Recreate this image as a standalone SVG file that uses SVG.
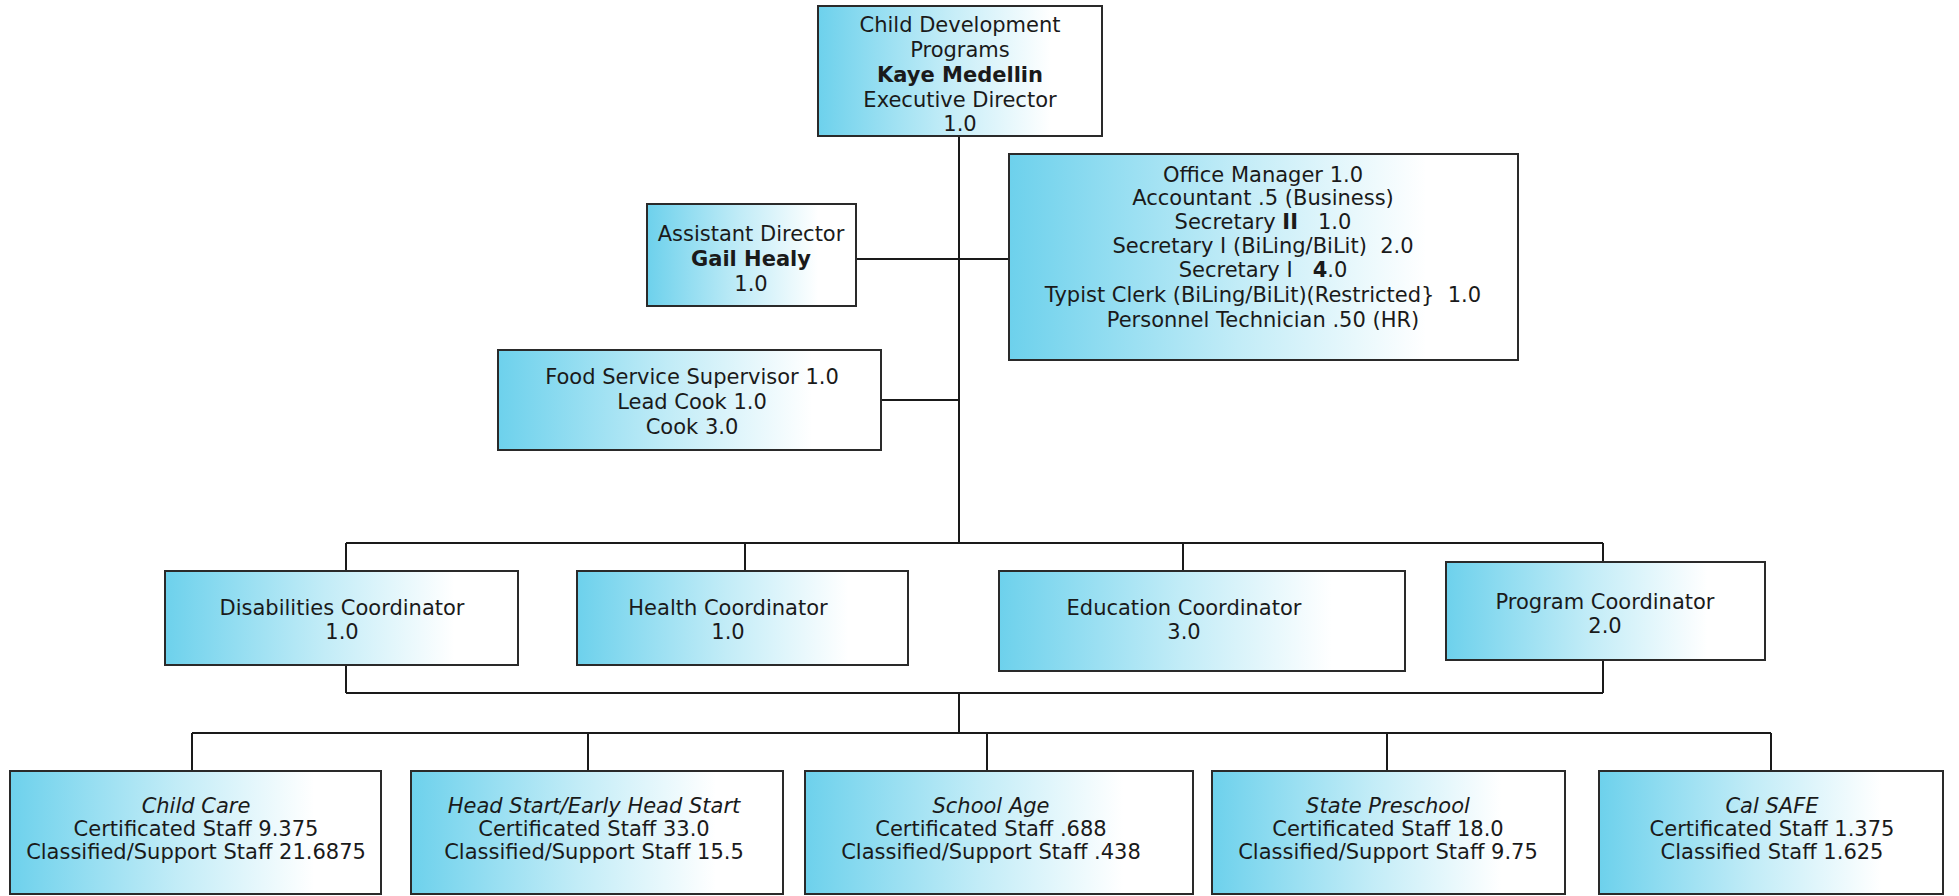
<svg xmlns="http://www.w3.org/2000/svg" width="1959" height="896" viewBox="0 0 1959 896">
<defs>
<linearGradient id="g" x1="0" y1="0" x2="1" y2="0">
<stop offset="0" stop-color="#6dd1ec"/>
<stop offset="0.45" stop-color="#c2ecf7"/>
<stop offset="0.82" stop-color="#ffffff"/>
</linearGradient>
<style>
.box{fill:url(#g);stroke:#2a2a2a;stroke-width:2}
.t{font-family:"DejaVu Sans","Liberation Sans",sans-serif;font-size:21px;fill:#1a1a1a;text-anchor:middle}
.b{font-weight:bold}
.i{font-style:italic}
.c{fill:none;stroke:#1a1a1a;stroke-width:2}
</style>
</defs>
<rect width="1959" height="896" fill="#ffffff"/>
<g id="connectors">
<path class="c" d="M959 136V543"/>
<path class="c" d="M856 259H1009"/>
<path class="c" d="M881 400H959"/>
<path class="c" d="M346 543H1603M346 543V571M745 543V571M1183 543V571M1603 543V562"/>
<path class="c" d="M346 665V693M1603 660V693M346 693H1603M959 693V733"/>
<path class="c" d="M192 733H1771M192 733V771M588 733V771M987 733V771M1387 733V771M1771 733V771"/>
</g>
<g id="exec">
<rect class="box" x="818" y="6" width="284" height="130"/>
<text class="t" x="960" y="32">Child Development</text>
<text class="t" x="960" y="57">Programs</text>
<text class="t b" x="960" y="82">Kaye Medellin</text>
<text class="t" x="960" y="107">Executive Director</text>
<text class="t" x="960" y="131">1.0</text>
</g>
<g id="office">
<rect class="box" x="1009" y="154" width="509" height="206"/>
<text class="t" x="1263" y="182">Office Manager 1.0</text>
<text class="t" x="1263" y="205">Accountant .5 (Business)</text>
<text class="t" x="1263" y="229" xml:space="preserve">Secretary <tspan class="b">II</tspan>   1.0</text>
<text class="t" x="1263" y="253" xml:space="preserve">Secretary I (BiLing/BiLit)  2.0</text>
<text class="t" x="1263" y="277" xml:space="preserve">Secretary I   <tspan class="b">4</tspan>.0</text>
<text class="t" x="1263" y="302" xml:space="preserve">Typist Clerk (BiLing/BiLit)(Restricted}  1.0</text>
<text class="t" x="1263" y="327">Personnel Technician .50 (HR)</text>
</g>
<g id="asst">
<rect class="box" x="647" y="204" width="209" height="102"/>
<text class="t" x="751" y="241">Assistant Director</text>
<text class="t b" x="751" y="266">Gail Healy</text>
<text class="t" x="751" y="291">1.0</text>
</g>
<g id="food">
<rect class="box" x="498" y="350" width="383" height="100"/>
<text class="t" x="692" y="384">Food Service Supervisor 1.0</text>
<text class="t" x="692" y="409">Lead Cook 1.0</text>
<text class="t" x="692" y="434">Cook 3.0</text>
</g>
<g id="disabilities">
<rect class="box" x="165" y="571" width="353" height="94"/>
<text class="t" x="342" y="615">Disabilities Coordinator</text>
<text class="t" x="342" y="639">1.0</text>
</g>
<g id="health">
<rect class="box" x="577" y="571" width="331" height="94"/>
<text class="t" x="728" y="615">Health Coordinator</text>
<text class="t" x="728" y="639">1.0</text>
</g>
<g id="education">
<rect class="box" x="999" y="571" width="406" height="100"/>
<text class="t" x="1184" y="615">Education Coordinator</text>
<text class="t" x="1184" y="639">3.0</text>
</g>
<g id="program">
<rect class="box" x="1446" y="562" width="319" height="98"/>
<text class="t" x="1605" y="609">Program Coordinator</text>
<text class="t" x="1605" y="633">2.0</text>
</g>
<g id="childcare">
<rect class="box" x="10" y="771" width="371" height="123"/>
<text class="t i" x="196" y="813">Child Care</text>
<text class="t" x="196" y="836">Certificated Staff 9.375</text>
<text class="t" x="196" y="859">Classified/Support Staff 21.6875</text>
</g>
<g id="headstart">
<rect class="box" x="411" y="771" width="372" height="123"/>
<text class="t i" x="594" y="813">Head Start/Early Head Start</text>
<text class="t" x="594" y="836">Certificated Staff 33.0</text>
<text class="t" x="594" y="859">Classified/Support Staff 15.5</text>
</g>
<g id="schoolage">
<rect class="box" x="805" y="771" width="388" height="123"/>
<text class="t i" x="991" y="813">School Age</text>
<text class="t" x="991" y="836">Certificated Staff .688</text>
<text class="t" x="991" y="859">Classified/Support Staff .438</text>
</g>
<g id="statepreschool">
<rect class="box" x="1212" y="771" width="353" height="123"/>
<text class="t i" x="1388" y="813">State Preschool</text>
<text class="t" x="1388" y="836">Certificated Staff 18.0</text>
<text class="t" x="1388" y="859">Classified/Support Staff 9.75</text>
</g>
<g id="calsafe">
<rect class="box" x="1599" y="771" width="344" height="123"/>
<text class="t i" x="1772" y="813">Cal SAFE</text>
<text class="t" x="1772" y="836">Certificated Staff 1.375</text>
<text class="t" x="1772" y="859">Classified Staff 1.625</text>
</g>
</svg>
